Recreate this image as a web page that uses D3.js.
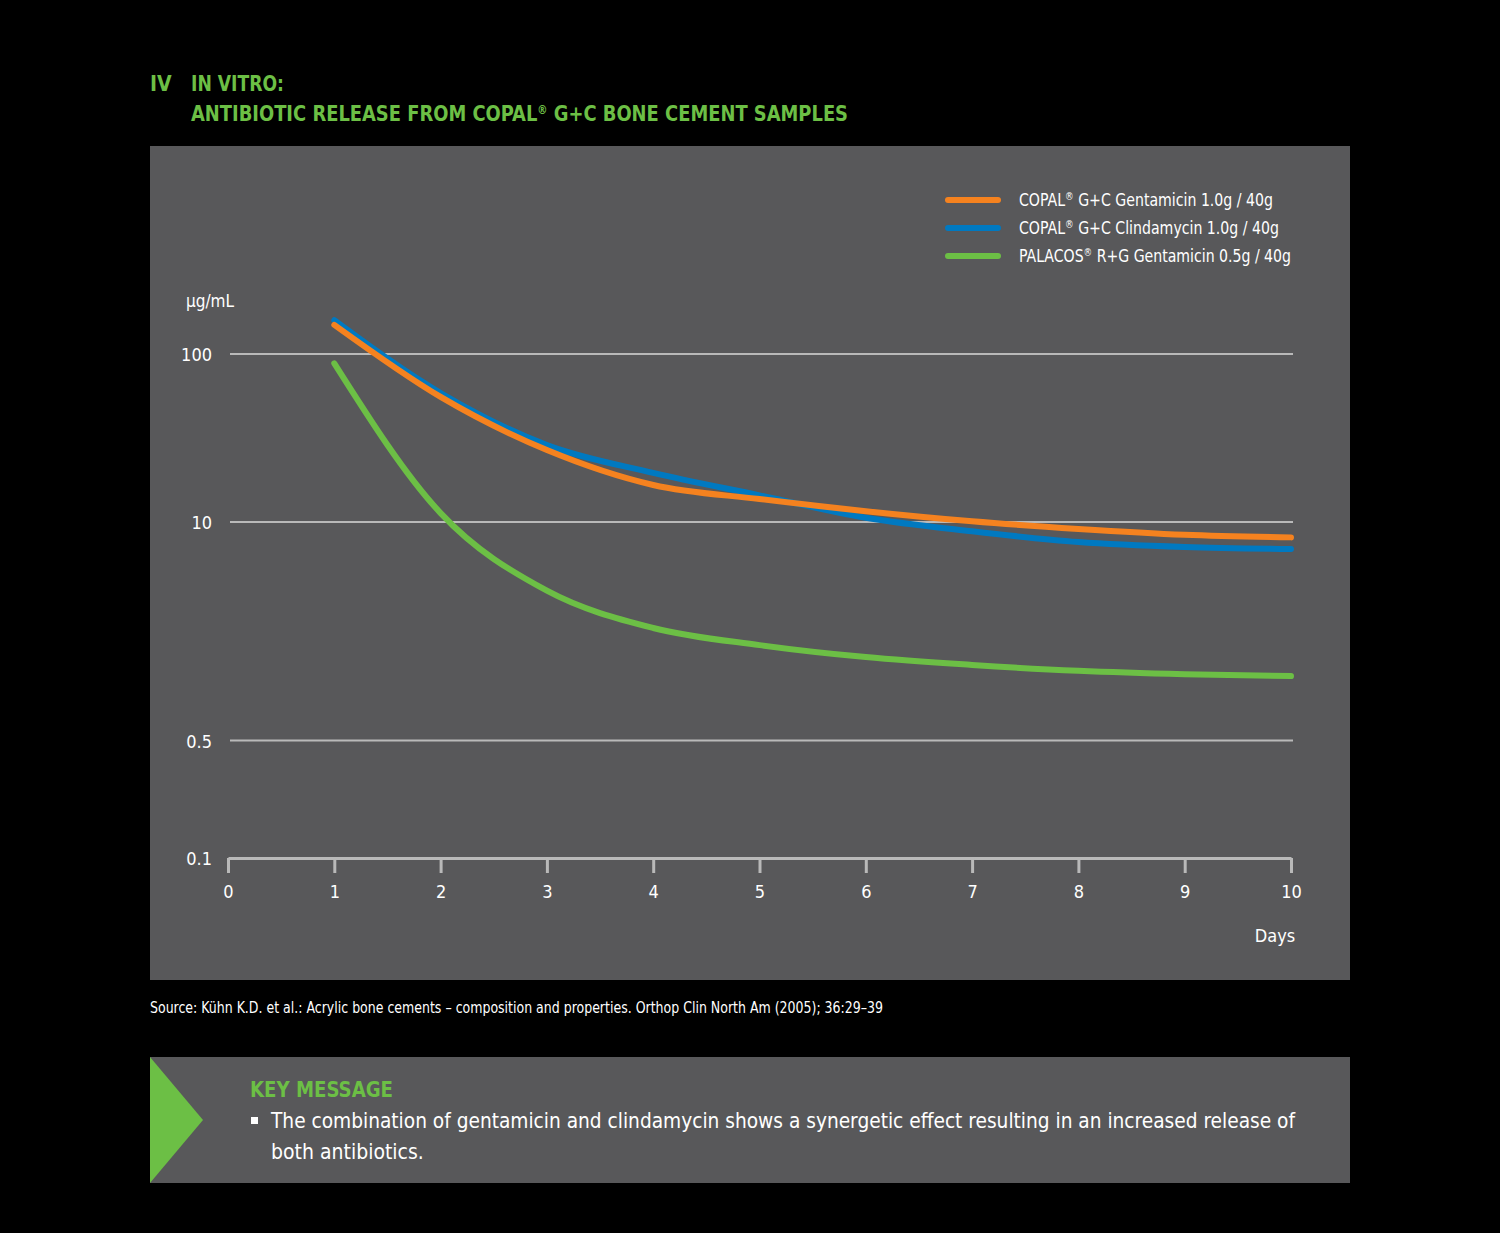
<!DOCTYPE html>
<html lang="en">
<head>
  <meta charset="UTF-8">
  <script src="https://cdnjs.cloudflare.com/ajax/libs/d3/7.8.5/d3.min.js"></script>
  <title>Antibiotic release from COPAL G+C</title>
  <style>
    body { margin: 0; background: #000; }
    svg text { font-family: "DejaVu Sans Condensed", "Liberation Sans Narrow", "Roboto", sans-serif; }
  </style>
</head>
<body>
  <div id="chart"></div>
  <script>
    // data (µg/mL, log axis)
    const days = [1, 2, 3, 4, 5, 6, 7, 8, 9, 10]
    const copalGenta = [149, 55.5, 26.8, 16.6, 13.7, 11.6, 10.1, 9.1, 8.4, 8.1]
    const copalClinda = [159, 58.6, 28.7, 19.6, 14.4, 10.6, 8.8, 7.6, 7.1, 6.9]
    const palacosGenta = [88, 11.3, 3.9, 2.34, 1.85, 1.57, 1.41, 1.30, 1.24, 1.21]
    const yTicks = [100, 10, 0.5]
    const xTicks = [0, 1, 2, 3, 4, 5, 6, 7, 8, 9, 10]

    // legend text split round the ® sign
    const seriesNames = [
      ['COPAL', ' G+C Gentamicin 1.0g / 40g'],
      ['COPAL', ' G+C Clindamycin 1.0g / 40g'],
      ['PALACOS', ' R+G Gentamicin 0.5g / 40g']
    ]
    const seriesColors = ['#f5821f', '#0079c1', '#6cbf45']
    const seriesValues = [copalGenta, copalClinda, palacosGenta]
    // draw order: green, blue, orange on top
    const drawOrder = [2, 1, 0]

    const W = 1500, H = 1233
    const green = '#6cbf45'
    const panel = '#58585a'

    const svg = d3.select('#chart')
      .append('svg')
      .attr('width', W)
      .attr('height', H)

    svg.append('rect').attr('width', W).attr('height', H).attr('fill', '#000')

    // squeeze text to the width seen in the picture (the original font is narrower)
    function fit(sel, w) {
      sel.attr('textLength', w).attr('lengthAdjust', 'spacingAndGlyphs')
      return sel
    }

    // heading
    svg.append('text').attr('x', 150).attr('y', 91)
      .attr('fill', green).style('font-size', '21px').style('font-weight', 'bold')
      .text('IV')
    fit(svg.append('text').attr('x', 191).attr('y', 91)
      .attr('fill', green).style('font-size', '21px').style('font-weight', 'bold')
      .text('IN VITRO:'), 93)
    const t2 = svg.append('text').attr('x', 191).attr('y', 121)
      .attr('fill', green).style('font-size', '21px').style('font-weight', 'bold')
    t2.append('tspan').text('ANTIBIOTIC RELEASE FROM COPAL')
    t2.append('tspan').attr('dy', -7).style('font-size', '12px').text('®')
    t2.append('tspan').attr('dy', 7).text(' G+C BONE CEMENT SAMPLES')
    fit(t2, 657)

    // chart panel
    svg.append('rect').attr('x', 150).attr('y', 146).attr('width', 1200).attr('height', 834)
      .attr('fill', panel)

    const x = d3.scaleLinear().domain([0, 10]).range([228, 1291])
    const y = d3.scaleLog().domain([0.1, 100]).range([858, 354])

    // gridlines
    svg.append('g')
      .selectAll('line')
      .data(yTicks)
      .enter()
      .append('line')
      .attr('x1', 230).attr('x2', 1293)
      .attr('y1', d => y(d)).attr('y2', d => y(d))
      .attr('stroke', '#b9b9b9').attr('stroke-width', 2)

    // y labels
    svg.append('g')
      .selectAll('text')
      .data(yTicks.concat([0.1]))
      .enter()
      .append('text')
      .attr('x', 212)
      .attr('y', d => y(d) + 7)
      .attr('text-anchor', 'end')
      .attr('fill', '#fff')
      .style('font-size', '18px')
      .text(d => d)

    svg.append('text').attr('x', 186).attr('y', 307)
      .attr('fill', '#fff').style('font-size', '17px').text('µg/mL')

    // x axis
    const xAxis = svg.append('g')
      .attr('transform', `translate(0, ${y(0.1)})`)
      .call(d3.axisBottom(x).tickValues(xTicks).tickSize(15).tickSizeOuter(0).tickPadding(12).tickFormat(d3.format('d')))
    xAxis.select('.domain').attr('stroke', '#b9b9b9').attr('stroke-width', 3)
    xAxis.selectAll('.tick line').attr('stroke', '#b9b9b9').attr('stroke-width', 3)
    xAxis.selectAll('.tick text')
      .attr('fill', '#fff')
      .style('font-size', '18px')
      .style('font-family', '"DejaVu Sans Condensed", sans-serif')

    svg.append('text').attr('x', 1275).attr('y', 942)
      .attr('text-anchor', 'middle')
      .attr('fill', '#fff').style('font-size', '18px').text('Days')

    // lines
    const line = d3.line()
      .x(d => x(d[0]))
      .y(d => y(d[1]))
      .curve(d3.curveMonotoneX)

    svg.append('g')
      .selectAll('path')
      .data(drawOrder)
      .enter()
      .append('path')
      .attr('d', i => line(days.map((d, j) => [d, seriesValues[i][j]])))
      .attr('fill', 'none')
      .attr('stroke', i => seriesColors[i])
      .attr('stroke-width', 6)
      .attr('stroke-linecap', 'round')

    // legend
    const legendWidths = [254, 260, 272]
    const legend = svg.append('g')
      .selectAll('g')
      .data(seriesNames)
      .enter()
      .append('g')
      .attr('transform', (d, i) => `translate(948, ${200 + i * 28})`)
    legend.append('line')
      .attr('x1', 0).attr('x2', 50)
      .attr('stroke', (d, i) => seriesColors[i])
      .attr('stroke-width', 6)
      .attr('stroke-linecap', 'round')
    const lt = legend.append('text')
      .attr('x', 71).attr('y', 6)
      .attr('fill', '#fff')
      .style('font-size', '18px')
      .attr('textLength', (d, i) => legendWidths[i])
      .attr('lengthAdjust', 'spacingAndGlyphs')
    lt.append('tspan').text(d => d[0])
    lt.append('tspan').attr('dy', -6).style('font-size', '11px').text('®')
    lt.append('tspan').attr('dy', 6).text(d => d[1])

    // source
    fit(svg.append('text').attr('x', 150).attr('y', 1013)
      .attr('fill', '#fff').style('font-size', '15px')
      .text('Source: Kühn K.D. et al.: Acrylic bone cements – composition and properties. Orthop Clin North Am (2005); 36:29–39'), 733)

    // key message box
    svg.append('rect').attr('x', 150).attr('y', 1057).attr('width', 1200).attr('height', 126)
      .attr('fill', panel)
    svg.append('polygon').attr('points', '150,1057 203,1120 150,1183').attr('fill', green)
    fit(svg.append('text').attr('x', 250).attr('y', 1097)
      .attr('fill', green).style('font-size', '21px').style('font-weight', 'bold')
      .text('KEY MESSAGE'), 143)
    svg.append('rect').attr('x', 251).attr('y', 1117).attr('width', 7).attr('height', 7).attr('fill', '#fff')
    fit(svg.append('text').attr('x', 271).attr('y', 1128)
      .attr('fill', '#fff').style('font-size', '21px')
      .text('The combination of gentamicin and clindamycin shows a synergetic effect resulting in an increased release of'), 1024)
    svg.append('text').attr('x', 271).attr('y', 1159)
      .attr('fill', '#fff').style('font-size', '21px')
      .text('both antibiotics.')
  </script>
</body>
</html>
